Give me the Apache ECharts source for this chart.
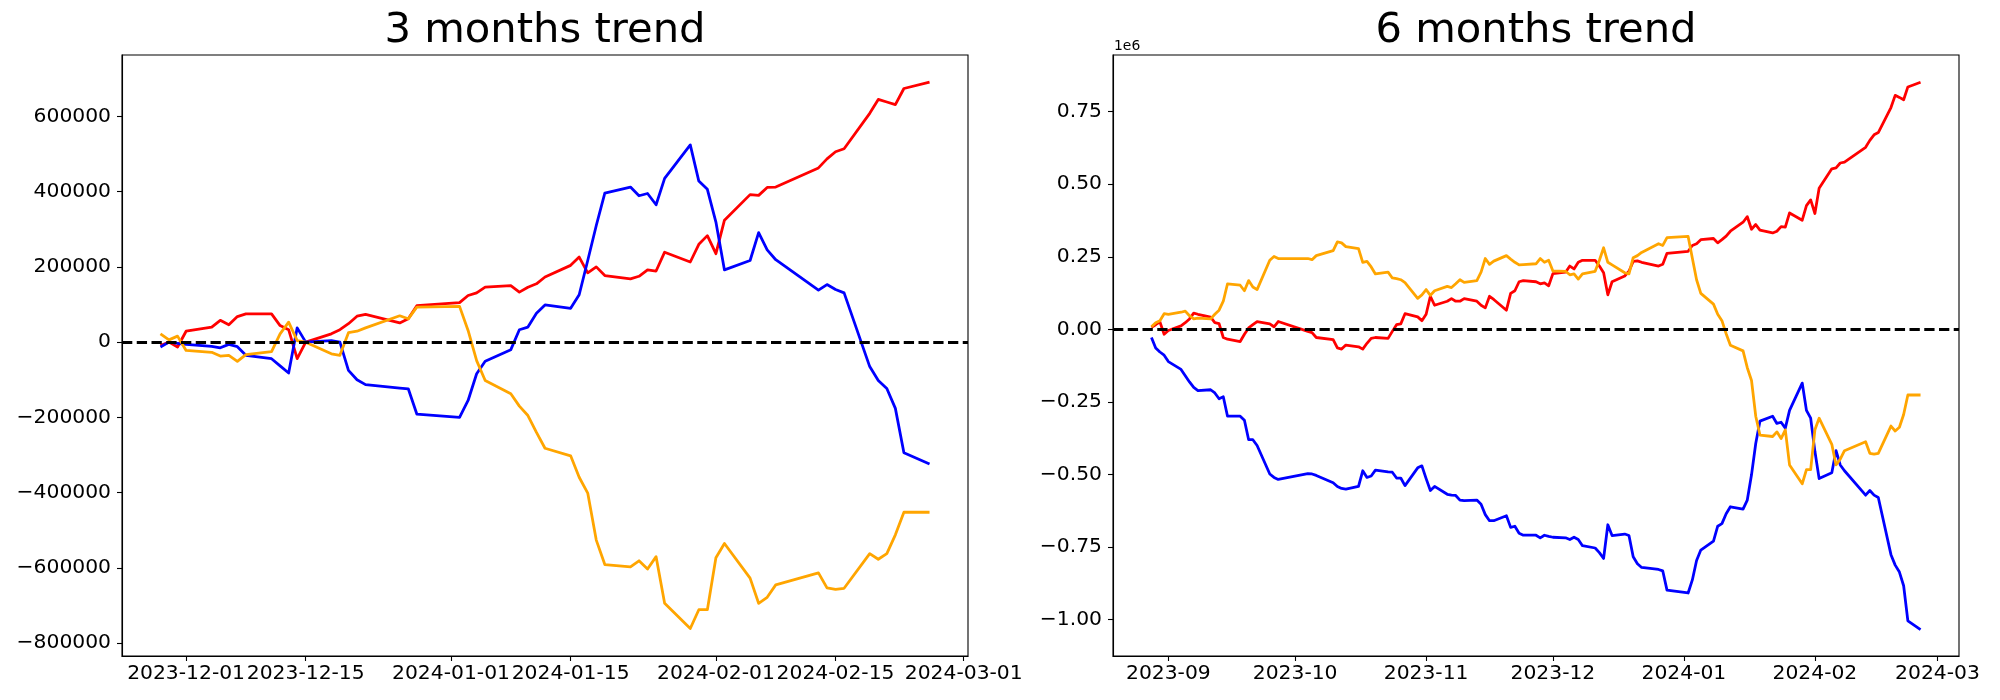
<!DOCTYPE html>
<html>
<head>
<meta charset="utf-8">
<script src="https://cdn.jsdelivr.net/npm/echarts@6/dist/echarts.min.js"></script>
<style>
html,body{margin:0;padding:0;background:#fff;}
#chart{width:2000px;height:700px;}
</style>
</head>
<body>
<div id="chart"></div>
<script>
// ---------- data: 3 months ----------
const dates3m = [
'2023-11-28','2023-11-29','2023-11-30','2023-12-01',
'2023-12-04','2023-12-05','2023-12-06','2023-12-07','2023-12-08',
'2023-12-11','2023-12-12','2023-12-13','2023-12-14','2023-12-15',
'2023-12-18','2023-12-19','2023-12-20','2023-12-21','2023-12-22',
'2023-12-26','2023-12-27','2023-12-28',
'2024-01-02','2024-01-03','2024-01-04','2024-01-05',
'2024-01-08','2024-01-09','2024-01-10','2024-01-11','2024-01-12',
'2024-01-15','2024-01-16','2024-01-17','2024-01-18','2024-01-19',
'2024-01-22','2024-01-23','2024-01-24','2024-01-25','2024-01-26',
'2024-01-29','2024-01-30','2024-01-31','2024-02-01','2024-02-02',
'2024-02-05','2024-02-06','2024-02-07','2024-02-08',
'2024-02-13','2024-02-14','2024-02-15','2024-02-16',
'2024-02-19','2024-02-20','2024-02-21','2024-02-22','2024-02-23',
'2024-02-26'
];
const red3m = [
-9000, 0, -13000, 29000,
40000, 58000, 46000, 68000, 75000,
75000, 44000, 33000, -44000, 0,
22000, 33000, 49000, 69000, 74000,
51000, 62000, 97000,
105000, 124000, 131000, 146000,
150000, 133000, 146000, 155000, 173000,
204000, 226000, 184000, 200000, 177000,
168000, 175000, 192000, 189000, 239000,
213000, 260000, 283000, 235000, 324000,
392000, 390000, 411000, 412000,
463000, 487000, 506000, 514000,
608000, 645000, 638000, 631000, 674000,
691000
];
const blue3m = [
-13000, 0, -3000, -6000,
-11000, -15000, -6000, -12000, -35000,
-44000, -63000, -82000, 38000, 0,
4000, 0, -75000, -100000, -113000,
-122000, -124000, -191000,
-200000, -155000, -84000, -51000,
-20000, 33000, 40000, 77000, 99000,
90000, 126000, 217000, 310000, 396000,
412000, 389000, 395000, 365000, 435000,
524000, 428000, 406000, 319000, 192000,
217000, 291000, 245000, 219000,
138000, 153000, 140000, 131000,
-65000, -102000, -123000, -176000, -294000,
-324000
];
const orange3m = [
22000, 6000, 16000, -22000,
-27000, -37000, -35000, -51000, -33000,
-25000, 22000, 53000, 4000, 0,
-31000, -35000, 25000, 29000, 38000,
70000, 62000, 93000,
95000, 31000, -49000, -102000,
-137000, -170000, -195000, -240000, -282000,
-302000, -359000, -401000, -526000, -591000,
-597000, -581000, -603000, -570000, -694000,
-761000, -711000, -711000, -573000, -535000,
-627000, -694000, -678000, -645000,
-613000, -653000, -657000, -654000,
-562000, -577000, -562000, -512000, -452000,
-452000
];

// ---------- data: 6 months ----------
const datesEarly6m = [
'2023-08-28','2023-08-29','2023-08-30','2023-08-31','2023-09-01',
'2023-09-04','2023-09-05','2023-09-06','2023-09-07','2023-09-08',
'2023-09-11','2023-09-12','2023-09-13','2023-09-14','2023-09-15',
'2023-09-18','2023-09-19','2023-09-20','2023-09-21','2023-09-22',
'2023-09-25','2023-09-26','2023-09-27',
'2023-10-04','2023-10-05','2023-10-06',
'2023-10-10','2023-10-11','2023-10-12','2023-10-13',
'2023-10-16','2023-10-17','2023-10-18','2023-10-19','2023-10-20',
'2023-10-23','2023-10-24','2023-10-25','2023-10-26','2023-10-27',
'2023-10-30','2023-10-31','2023-11-01','2023-11-02','2023-11-03',
'2023-11-06','2023-11-07','2023-11-08','2023-11-09','2023-11-10',
'2023-11-13','2023-11-14','2023-11-15','2023-11-16','2023-11-17',
'2023-11-20','2023-11-21','2023-11-22','2023-11-23','2023-11-24',
'2023-11-27'
];
const dates6m = datesEarly6m.concat(dates3m);
const red6m = [
7000, 16000, 26000, -17000, -4000,
12000, 23000, 36000, 56000, 52000,
42000, 23000, 20000, -28000, -34000,
-42000, -17000, 5000, 16000, 27000,
19000, 9000, 27000,
-7000, -11000, -28000,
-35000, -64000, -68000, -54000,
-60000, -68000, -48000, -31000, -28000,
-31000, -7000, 16000, 19000, 54000,
43000, 30000, 52000, 114000, 83000,
97000, 106000, 97000, 97000, 106000,
97000, 83000, 74000, 114000, 103000,
66000, 124000, 133000, 164000, 168000,
164000,
157000, 160000, 150000, 192000,
197000, 218000, 208000, 231000, 238000,
238000, 218000, 195000, 119000, 164000,
184000, 200000, 234000, 236000, 231000,
218000, 224000, 262000,
269000, 289000, 295000, 309000,
313000, 298000, 309000, 321000, 338000,
369000, 388000, 345000, 361000, 342000,
332000, 338000, 354000, 352000, 401000,
376000, 426000, 446000, 399000, 486000,
553000, 556000, 573000, 576000,
627000, 651000, 670000, 678000,
764000, 806000, 799000, 791000, 835000,
851000
];
const blue6m = [
-28000, -64000, -78000, -89000, -111000,
-138000, -160000, -181000, -200000, -211000,
-208000, -219000, -239000, -232000, -299000,
-299000, -313000, -380000, -380000, -400000,
-498000, -510000, -517000,
-497000, -498000, -503000,
-528000, -541000, -548000, -550000,
-541000, -487000, -510000, -505000, -485000,
-491000, -492000, -512000, -512000, -538000,
-477000, -470000, -514000, -555000, -541000,
-568000, -571000, -572000, -588000, -590000,
-588000, -602000, -638000, -659000, -659000,
-642000, -682000, -678000, -702000, -709000,
-709000,
-718000, -709000, -713000, -716000,
-718000, -724000, -716000, -724000, -745000,
-753000, -769000, -789000, -673000, -710000,
-705000, -710000, -783000, -807000, -820000,
-827000, -832000, -898000,
-908000, -863000, -796000, -760000,
-729000, -678000, -669000, -635000, -611000,
-619000, -588000, -501000, -393000, -316000,
-299000, -324000, -320000, -340000, -279000,
-185000, -279000, -306000, -420000, -514000,
-494000, -418000, -467000, -487000,
-571000, -555000, -571000, -579000,
-776000, -812000, -836000, -883000, -1004000,
-1034000
];
const orange6m = [
9000, 23000, 30000, 54000, 52000,
59000, 63000, 47000, 36000, 39000,
36000, 52000, 66000, 97000, 157000,
152000, 133000, 168000, 146000, 137000,
238000, 251000, 244000,
244000, 240000, 254000,
271000, 301000, 298000, 285000,
278000, 231000, 234000, 215000, 191000,
197000, 177000, 175000, 171000, 161000,
107000, 119000, 137000, 117000, 133000,
148000, 144000, 157000, 171000, 162000,
168000, 197000, 244000, 224000, 235000,
254000, 242000, 231000, 222000, 223000,
226000,
244000, 231000, 238000, 201000,
200000, 188000, 191000, 173000, 191000,
200000, 238000, 281000, 231000, 222000,
195000, 191000, 247000, 254000, 265000,
295000, 289000, 316000,
320000, 245000, 171000, 124000,
87000, 52000, 30000, -15000, -55000,
-74000, -132000, -176000, -299000, -364000,
-369000, -353000, -376000, -346000, -467000,
-532000, -483000, -483000, -346000, -306000,
-396000, -467000, -447000, -418000,
-387000, -427000, -430000, -427000,
-333000, -350000, -337000, -293000, -226000,
-226000
];

// ---------- ticks ----------
const xTicks3m = ['2023-12-01','2023-12-15','2024-01-01','2024-01-15','2024-02-01','2024-02-15','2024-03-01'];
const xTicks6m = ['2023-09-01','2023-10-01','2023-11-01','2023-12-01','2024-01-01','2024-02-01','2024-03-01'];
const yTicks3m = [-800000,-600000,-400000,-200000,0,200000,400000,600000];
const yTicks6m = [-1000000,-750000,-500000,-250000,0,250000,500000,750000];
const titles = ['3 months trend', '6 months trend'];
const colors = {red:'#ff0000', blue:'#0000ff', orange:'#ffa500'};

// ---------- helpers ----------
const DAY = 86400000;
function ts(s){ const p = s.split('-').map(Number); return Date.UTC(p[0], p[1]-1, p[2]); }
function pairs(dates, vals){ return dates.map((d,i)=>[ts(d), vals[i]]); }
const MINUS = '\u2212';
function fmtInt(v){ return v < 0 ? MINUS + Math.abs(v) : String(v); }
function fmtMil(v){ const s = (Math.abs(v)/1e6).toFixed(2); return v < 0 ? MINUS + s : s; }
function pad(n){ return String(n).padStart(2,'0'); }
function fmtDay(v){ const d = new Date(v); return d.getUTCFullYear()+'-'+pad(d.getUTCMonth()+1)+'-'+pad(d.getUTCDate()); }
function fmtMonth(v){ const d = new Date(v); return d.getUTCFullYear()+'-'+pad(d.getUTCMonth()+1); }

const FONT = 'DejaVu Sans';
const TICKFS = 20.3;
const LW = 2.78;
const AXW = 1.1;
const G = [{left:122, top:55, width:846, height:601}, {left:1113, top:55, width:846, height:601}];

function xAxis(gi, dates, ticks, fmt, padDays){
  const tv = ticks.map(ts);
  return {
    type:'value', gridIndex:gi, scale:true,
    min: ts(dates[0]) - padDays*DAY, max: ts(dates[dates.length-1]) + padDays*DAY,
    axisLine:{show:true, onZero:false, lineStyle:{color:'#000', width:AXW}},
    axisTick:{show:true, inside:false, length:5, customValues:tv, lineStyle:{color:'#000', width:AXW}},
    axisLabel:{show:true, customValues:tv, formatter:fmt, color:'#000', fontSize:TICKFS, fontFamily:FONT, margin:8,
      hideOverlap:false, showMinLabel:true, showMaxLabel:true},
    splitLine:{show:false}, minorTick:{show:false}
  };
}
function yAxis(gi, min, max, ticks, fmt){
  return {
    type:'value', gridIndex:gi, min:min, max:max, scale:true,
    axisLine:{show:true, onZero:false, lineStyle:{color:'#000', width:AXW}},
    axisTick:{show:true, inside:false, length:5, customValues:ticks, lineStyle:{color:'#000', width:AXW}},
    axisLabel:{show:true, customValues:ticks, formatter:fmt, color:'#000', fontSize:TICKFS, fontFamily:FONT, margin:11,
      hideOverlap:false, showMinLabel:true, showMaxLabel:true},
    splitLine:{show:false}, minorTick:{show:false}
  };
}
function line(gi, dates, vals, color){
  return {type:'line', xAxisIndex:gi, yAxisIndex:gi, data:pairs(dates, vals), showSymbol:false, symbol:'none',
    lineStyle:{color:color, width:LW, join:'round', cap:'butt'}, itemStyle:{color:color}, silent:true, z:2};
}
function zeroLine(gi){
  return {type:'line', xAxisIndex:gi, yAxisIndex:gi, data:[], silent:true, z:3,
    markLine:{silent:true, symbol:'none', animation:false, label:{show:false},
      lineStyle:{color:'#000', width:LW, type:[10.3, 4.45]}, data:[{yAxis:0}]}};
}

const chart = echarts.init(document.getElementById('chart'), null, {renderer:'canvas'});
chart.setOption({
  animation:false,
  backgroundColor:'#fff',
  grid: G.map(g => Object.assign({show:true, borderColor:'#000', borderWidth:AXW, backgroundColor:'transparent', containLabel:false}, g)),
  xAxis:[ xAxis(0, dates3m, xTicks3m, fmtDay, 4.5), xAxis(1, dates6m, xTicks6m, fmtMonth, 9.1) ],
  yAxis:[ yAxis(0, -834000, 763000, yTicks3m, fmtInt), yAxis(1, -1125000, 945000, yTicks6m, fmtMil) ],
  graphic:[
    {type:'text', x:G[0].left + G[0].width/2, y:31, silent:true,
      style:{text:titles[0], fill:'#000', font:'41.7px "DejaVu Sans"', align:'center', verticalAlign:'middle', textAlign:'center', textVerticalAlign:'middle'}},
    {type:'text', x:G[1].left + G[1].width/2, y:31, silent:true,
      style:{text:titles[1], fill:'#000', font:'41.7px "DejaVu Sans"', align:'center', verticalAlign:'middle', textAlign:'center', textVerticalAlign:'middle'}},
    {type:'text', x:G[1].left + 1, y:46, silent:true,
      style:{text:'1e6', fill:'#000', font:'13.9px "DejaVu Sans"', align:'left', verticalAlign:'middle', textAlign:'left', textVerticalAlign:'middle'}}
  ],
  series:[
    line(0, dates3m, red3m, colors.red),
    line(0, dates3m, blue3m, colors.blue),
    line(0, dates3m, orange3m, colors.orange),
    zeroLine(0),
    line(1, dates6m, red6m, colors.red),
    line(1, dates6m, blue6m, colors.blue),
    line(1, dates6m, orange6m, colors.orange),
    zeroLine(1)
  ]
});
</script>
</body>
</html>
